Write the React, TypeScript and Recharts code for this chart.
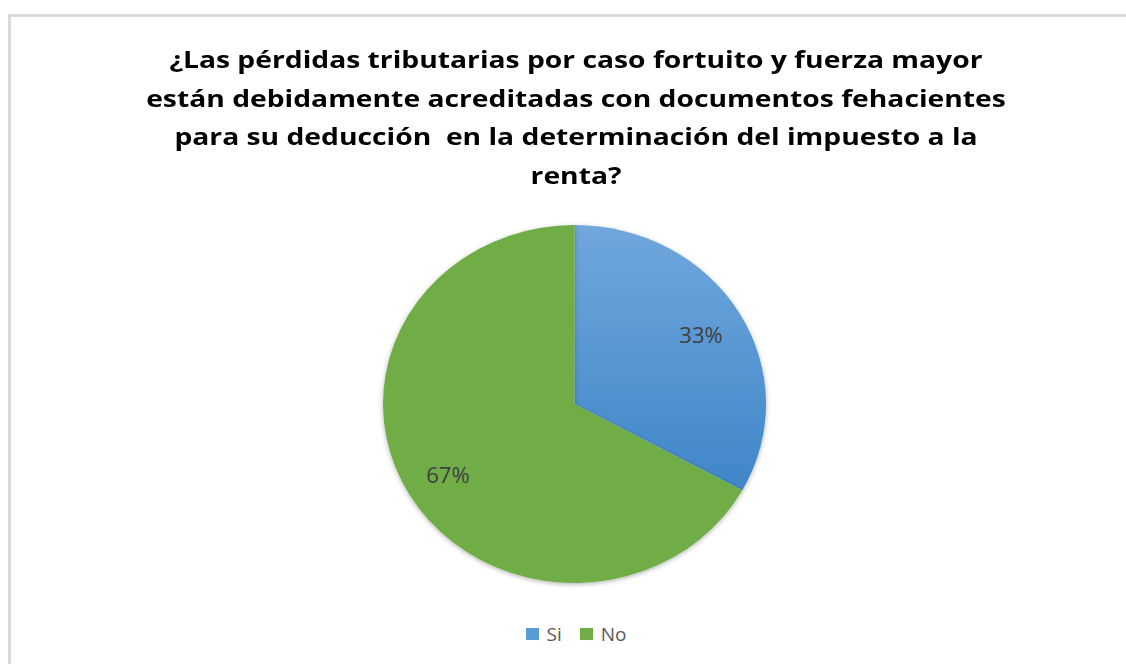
import React from "react";
import { PieChart, Pie, Cell, Legend, Sector } from "recharts";

const categories = ["Si", "No"];
const values = [33, 67];
const percentLabels = ["33%", "67%"];
const colors = ["url(#blueGrad)", "#70ad47"];
const legendColors = ["#5b9bd5", "#70ad47"];
const titleLines = [
  "¿Las pérdidas tributarias por caso fortuito y fuerza mayor",
  "están debidamente acreditadas con documentos fehacientes",
  "para su deducción  en la determinación del impuesto a la",
  "renta?",
];

const data = categories.map((name, i) => ({ name, value: values[i], label: percentLabels[i] }));

const W = 1126;
const H = 664;
const CX = 574.5;
const CY = 404;
const R = 191.5;
const K = 179 / 191.5;
const FONT = "'Open Sans', sans-serif";

const EllipseShape = (props: any) => {
  const { cx, cy } = props;
  return (
    <g transform={`translate(${cx},${cy}) scale(1,${K}) translate(${-cx},${-cy})`}>
      <Sector {...props} stroke="none" />
    </g>
  );
};

const renderLabel = (props: any) => {
  const { cx, cy, midAngle, index } = props;
  const rad = (-midAngle * Math.PI) / 180;
  const r = 147;
  const x = cx + r * Math.cos(rad);
  const y = cy + r * K * Math.sin(rad);
  return (
    <text
      x={x}
      y={y}
      textAnchor="middle"
      dominantBaseline="central"
      fill="#404040"
      fontSize={22}
      fontFamily={FONT}
    >
      {data[index].label}
    </text>
  );
};

const renderLegend = () => {
  return (
    <div style={{ display: "flex", justifyContent: "center", fontFamily: FONT, fontSize: 19, color: "#595959", lineHeight: "24px" }}>
      {categories.map((c, i) => (
        <div key={c} style={{ display: "flex", alignItems: "center", marginRight: i === categories.length - 1 ? 0 : 18 }}>
          <span style={{ display: "inline-block", width: 13, height: 12, background: legendColors[i], marginRight: 8 }} />
          <span>{c}</span>
        </div>
      ))}
    </div>
  );
};

export default function App() {
  return (
    <div style={{ position: "absolute", left: 0, top: 0, width: W, height: H, background: "#fff", overflow: "hidden" }}>
      <svg width={0} height={0} style={{ position: "absolute" }}>
        <defs>
          <linearGradient id="blueGrad" x1="0" y1="0" x2="0" y2="1">
            <stop offset="0%" stopColor="#70a7dd" />
            <stop offset="100%" stopColor="#3f86c8" />
          </linearGradient>
          <filter id="pieShadow" x="-10%" y="-10%" width="120%" height="120%">
            <feDropShadow dx="0" dy="1.5" stdDeviation="2.5" floodColor="#000" floodOpacity="0.3" />
          </filter>
        </defs>
      </svg>
      <div
        style={{
          position: "absolute",
          left: 8,
          top: 14,
          width: W,
          height: H,
          borderLeft: "3px solid #d9d9d9",
          borderTop: "3px solid #d9d9d9",
        }}
      />
      <div
        style={{
          position: "absolute",
          left: 0,
          top: 40,
          width: 1152,
          textAlign: "center",
          fontFamily: FONT,
          fontWeight: 700,
          fontSize: 24,
          lineHeight: "38.5px",
          color: "#000",
          transform: "scaleX(1.177)",
          transformOrigin: "576px 0",
        }}
      >
        {titleLines.map((t, i) => (
          <div key={i} style={{ whiteSpace: "pre" }}>{t}</div>
        ))}
      </div>
      <div style={{ position: "absolute", left: 0, top: 0 }}>
        <PieChart width={W} height={H} margin={{ top: 0, right: 0, bottom: 0, left: 0 }}>
          <Pie
            data={data}
            dataKey="value"
            nameKey="name"
            cx={CX}
            cy={CY}
            outerRadius={R}
            startAngle={90}
            endAngle={-270}
            isAnimationActive={false}
            shape={EllipseShape}
            label={renderLabel}
            labelLine={false}
            style={{ filter: "url(#pieShadow)" }}
          >
            {data.map((d, i) => (
              <Cell key={d.name} fill={colors[i]} />
            ))}
          </Pie>
          <Legend
            content={renderLegend}
            wrapperStyle={{ position: "absolute", top: 622, left: 28, width: W - 30, bottom: "auto" }}
          />
        </PieChart>
      </div>
    </div>
  );
}
